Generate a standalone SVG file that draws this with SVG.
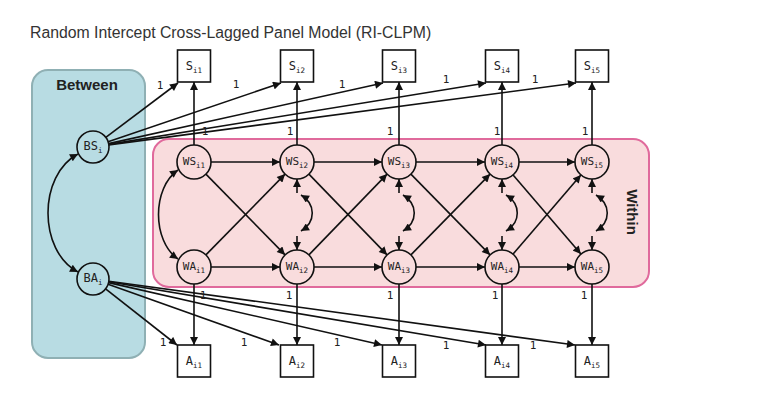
<svg xmlns="http://www.w3.org/2000/svg" width="781" height="408" viewBox="0 0 781 408">
<defs>
<marker id="ah" viewBox="0 0 10 10" refX="10" refY="5" markerWidth="9" markerHeight="8" markerUnits="userSpaceOnUse" orient="auto-start-reverse">
<path d="M0,0 L10,5 L0,10 z" fill="#111"/>
</marker>
<style>
.t{font-family:"Liberation Sans",Arial,sans-serif;fill:#333}
.grp{font-family:"Liberation Sans",Arial,sans-serif;font-weight:bold;font-size:15px;fill:#222}
.c{fill:none;stroke:#111;stroke-width:1.6;marker-end:url(#ah)}
.d{fill:none;stroke:#111;stroke-width:1.6;marker-start:url(#ah);marker-end:url(#ah)}
.lab{font-family:"DejaVu Sans Mono",monospace;font-size:11px;fill:#222;text-anchor:middle}
.nl{font-family:"DejaVu Sans Mono",monospace;font-size:11px;fill:#222;text-anchor:middle}
.nb{font-family:"DejaVu Sans Mono",monospace;font-size:12px;fill:#222;text-anchor:middle}
.sub{font-size:7.5px}
.box{fill:#fff;stroke:#111;stroke-width:1.6}
.cw{fill:#f9dcdd;stroke:#111;stroke-width:1.6}
.cb{fill:#b8dce3;stroke:#111;stroke-width:1.6}
</style>
</defs>
<rect width="781" height="408" fill="#fff"/>
<text class="t" x="30" y="38" font-size="15.8">Random Intercept Cross-Lagged Panel Model (RI-CLPM)</text>

<g id="between-panel">
<rect x="32" y="70" width="113" height="288" rx="16" fill="#b8dce3" stroke="#8fb0b4" stroke-width="2"/>
<text class="grp" x="87" y="90" text-anchor="middle">Between</text>
</g>
<g id="within-panel">
<rect x="153" y="139" width="496" height="148" rx="16" fill="#f9dcdd" stroke="#e06a9c" stroke-width="2"/>
<text class="grp" transform="translate(627,212) rotate(90)" text-anchor="middle">Within</text>
</g>

<g id="connectors">
<path class="c" d="M105.8,137.4 L178,83"/>
<path class="c" d="M108.1,141.8 L281,83"/>
<path class="c" d="M108.6,143.6 L383,83"/>
<path class="c" d="M108.8,144.4 L486,83"/>
<path class="c" d="M108.9,144.9 L576,83"/>
<path class="c" d="M105.6,288.9 L177,345"/>
<path class="c" d="M108.1,284.3 L279,345"/>
<path class="c" d="M108.6,282.6 L382,345"/>
<path class="c" d="M108.8,281.7 L486,345"/>
<path class="c" d="M108.9,281.2 L575,345"/>
<path class="d" d="M78,154 C38,175 38,251 78,272"/>
<path class="c" d="M194,145 L194,82"/>
<path class="c" d="M297,145 L297,82"/>
<path class="c" d="M399,145 L399,82"/>
<path class="c" d="M502,145 L502,82"/>
<path class="c" d="M592,145 L592,82"/>
<path class="c" d="M194,284 L194,345"/>
<path class="c" d="M297,284 L297,345"/>
<path class="c" d="M399,284 L399,345"/>
<path class="c" d="M502,284 L502,345"/>
<path class="c" d="M592,284 L592,345"/>
<path class="c" d="M211,162 L280,162"/>
<path class="c" d="M314,162 L382,162"/>
<path class="c" d="M416,162 L485,162"/>
<path class="c" d="M519,162 L575,162"/>
<path class="c" d="M211,267 L280,267"/>
<path class="c" d="M314,267 L382,267"/>
<path class="c" d="M416,267 L485,267"/>
<path class="c" d="M519,267 L575,267"/>
<path class="c" d="M205.9,174.1 L285.1,254.9"/>
<path class="c" d="M308.9,174.1 L387.1,254.9"/>
<path class="c" d="M410.9,174.1 L490.1,254.9"/>
<path class="c" d="M513.1,174.9 L580.9,254.1"/>
<path class="c" d="M205.9,254.9 L285.1,174.1"/>
<path class="c" d="M308.9,254.9 L387.1,174.1"/>
<path class="c" d="M410.9,254.9 L490.1,174.1"/>
<path class="c" d="M513.1,254.1 L580.9,174.9"/>
<path class="d" d="M178,170 C152,188 152,241 178,259"/>
<path class="c" d="M297,193 L297,179"/>
<path class="c" d="M297,236 L297,250"/>
<path class="d" d="M301,195 C316,204 316,222 301,231"/>
<path class="c" d="M399,193 L399,179"/>
<path class="c" d="M399,236 L399,250"/>
<path class="d" d="M403,195 C418,204 418,222 403,231"/>
<path class="c" d="M502,193 L502,179"/>
<path class="c" d="M502,236 L502,250"/>
<path class="d" d="M506,195 C521,204 521,222 506,231"/>
<path class="c" d="M592,193 L592,179"/>
<path class="c" d="M592,236 L592,250"/>
<path class="d" d="M596,195 C611,204 611,222 596,231"/>
<g>
<text class="lab" x="160" y="89">1</text>
<text class="lab" x="236" y="88">1</text>
<text class="lab" x="342" y="88">1</text>
<text class="lab" x="446" y="83">1</text>
<text class="lab" x="535" y="83">1</text>
<text class="lab" x="205" y="135">1</text>
<text class="lab" x="290" y="135">1</text>
<text class="lab" x="390" y="135">1</text>
<text class="lab" x="497" y="135">1</text>
<text class="lab" x="585" y="135">1</text>
<text class="lab" x="203" y="299">1</text>
<text class="lab" x="289" y="299">1</text>
<text class="lab" x="390" y="299">1</text>
<text class="lab" x="495" y="299">1</text>
<text class="lab" x="584" y="299">1</text>
<text class="lab" x="163" y="346">1</text>
<text class="lab" x="244" y="346">1</text>
<text class="lab" x="337" y="346">1</text>
<text class="lab" x="446" y="349">1</text>
<text class="lab" x="533" y="349">1</text>
</g>
</g>

<g id="BS"><circle class="cb" cx="93" cy="147" r="16"/><text class="nb" x="93" y="150">BS<tspan class="sub" dy="3">i</tspan></text></g>
<g id="BA"><circle class="cb" cx="93" cy="279" r="16"/><text class="nb" x="93" y="282">BA<tspan class="sub" dy="3">i</tspan></text></g>

<g id="WS1"><circle class="cw" cx="194" cy="162" r="17"/><text class="nl" x="194" y="165">WS<tspan class="sub" dy="3">i1</tspan></text></g>
<g id="WS2"><circle class="cw" cx="297" cy="162" r="17"/><text class="nl" x="297" y="165">WS<tspan class="sub" dy="3">i2</tspan></text></g>
<g id="WS3"><circle class="cw" cx="399" cy="162" r="17"/><text class="nl" x="399" y="165">WS<tspan class="sub" dy="3">i3</tspan></text></g>
<g id="WS4"><circle class="cw" cx="502" cy="162" r="17"/><text class="nl" x="502" y="165">WS<tspan class="sub" dy="3">i4</tspan></text></g>
<g id="WS5"><circle class="cw" cx="592" cy="162" r="17"/><text class="nl" x="592" y="165">WS<tspan class="sub" dy="3">i5</tspan></text></g>

<g id="WA1"><circle class="cw" cx="194" cy="267" r="17"/><text class="nl" x="194" y="270">WA<tspan class="sub" dy="3">i1</tspan></text></g>
<g id="WA2"><circle class="cw" cx="297" cy="267" r="17"/><text class="nl" x="297" y="270">WA<tspan class="sub" dy="3">i2</tspan></text></g>
<g id="WA3"><circle class="cw" cx="399" cy="267" r="17"/><text class="nl" x="399" y="270">WA<tspan class="sub" dy="3">i3</tspan></text></g>
<g id="WA4"><circle class="cw" cx="502" cy="267" r="17"/><text class="nl" x="502" y="270">WA<tspan class="sub" dy="3">i4</tspan></text></g>
<g id="WA5"><circle class="cw" cx="592" cy="267" r="17"/><text class="nl" x="592" y="270">WA<tspan class="sub" dy="3">i5</tspan></text></g>

<g id="S1"><rect class="box" x="177.5" y="50" width="33" height="32"/><text class="nb" x="194" y="70">S<tspan class="sub" dy="3">i1</tspan></text></g>
<g id="S2"><rect class="box" x="280.5" y="50" width="33" height="32"/><text class="nb" x="297" y="70">S<tspan class="sub" dy="3">i2</tspan></text></g>
<g id="S3"><rect class="box" x="382.5" y="50" width="33" height="32"/><text class="nb" x="399" y="70">S<tspan class="sub" dy="3">i3</tspan></text></g>
<g id="S4"><rect class="box" x="485.5" y="50" width="33" height="32"/><text class="nb" x="502" y="70">S<tspan class="sub" dy="3">i4</tspan></text></g>
<g id="S5"><rect class="box" x="575.5" y="50" width="33" height="32"/><text class="nb" x="592" y="70">S<tspan class="sub" dy="3">i5</tspan></text></g>

<g id="A1"><rect class="box" x="177.5" y="345" width="33" height="32"/><text class="nb" x="194" y="365">A<tspan class="sub" dy="3">i1</tspan></text></g>
<g id="A2"><rect class="box" x="280.5" y="345" width="33" height="32"/><text class="nb" x="297" y="365">A<tspan class="sub" dy="3">i2</tspan></text></g>
<g id="A3"><rect class="box" x="382.5" y="345" width="33" height="32"/><text class="nb" x="399" y="365">A<tspan class="sub" dy="3">i3</tspan></text></g>
<g id="A4"><rect class="box" x="485.5" y="345" width="33" height="32"/><text class="nb" x="502" y="365">A<tspan class="sub" dy="3">i4</tspan></text></g>
<g id="A5"><rect class="box" x="575.5" y="345" width="33" height="32"/><text class="nb" x="592" y="365">A<tspan class="sub" dy="3">i5</tspan></text></g>
</svg>
